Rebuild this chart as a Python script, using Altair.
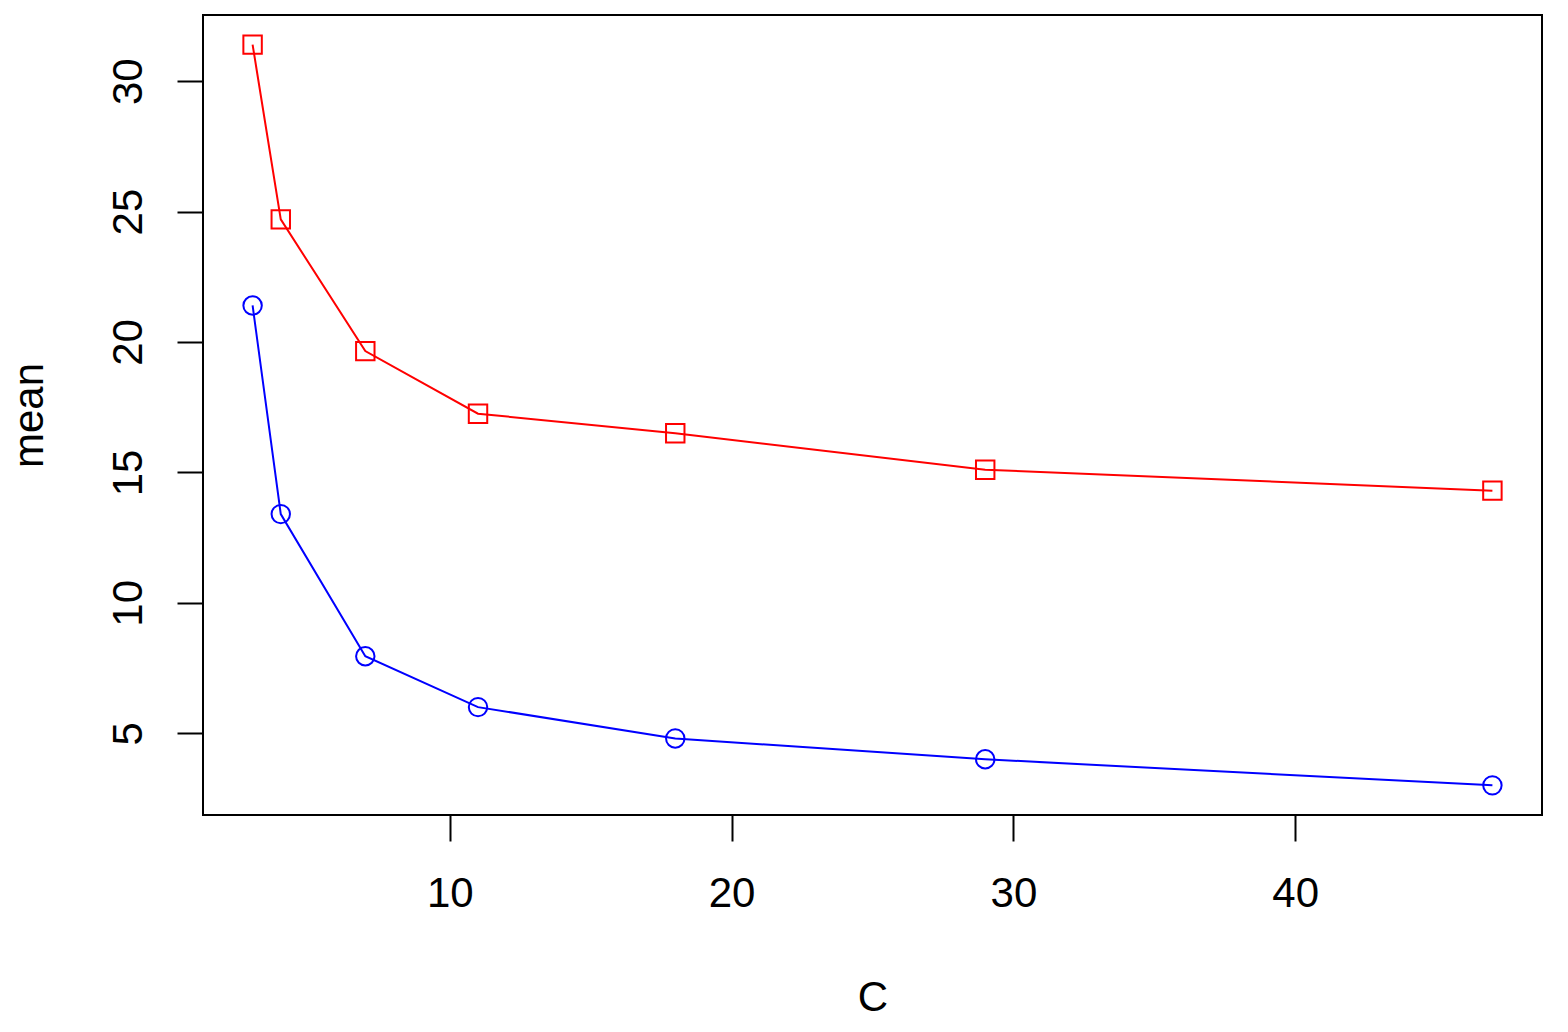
import altair as alt
import pandas as pd

C = [3, 4, 7, 11, 18, 29, 47]
mean_red = [31.4, 24.7, 19.65, 17.25, 16.5, 15.1, 14.3]
mean_blue = [21.4, 13.4, 7.95, 6.0, 4.8, 4.0, 3.0]
series_names = ["red", "blue"]
series_colors = ["#FF0000", "#0000FF"]
series_shapes = ["square", "circle"]
x_ticks = [10, 20, 30, 40]
y_ticks = [5, 10, 15, 20, 25, 30]

rows = []
for c, v in zip(C, mean_red):
    rows.append({"C": c, "mean": v, "series": "red"})
for c, v in zip(C, mean_blue):
    rows.append({"C": c, "mean": v, "series": "blue"})
df = pd.DataFrame(rows)

xmin, xmax = min(C), max(C)
allv = mean_red + mean_blue
ymin, ymax = min(allv), max(allv)
xr = (xmax - xmin) * 0.04
yr = (ymax - ymin) * 0.04

FONT = "Liberation Sans"
W, H = 1339, 800

x_enc = alt.X(
    "C:Q",
    scale=alt.Scale(domain=[xmin - xr, xmax + xr], nice=False, zero=False),
    axis=alt.Axis(
        values=x_ticks, grid=False, domain=False, tickSize=26, tickWidth=2,
        tickColor="black", labelFont=FONT, labelFontSize=42, labelColor="black",
        labelBaseline="top", labelPadding=32, labelFlush=False,
        title="C", titleFont=FONT, titleFontSize=42, titleFontWeight="normal",
        titleColor="black", titleBaseline="alphabetic", titleY=195, titleX=W / 2,
        titleAlign="center",
    ),
)
y_enc = alt.Y(
    "mean:Q",
    scale=alt.Scale(domain=[ymin - yr, ymax + yr], nice=False, zero=False),
    axis=alt.Axis(
        values=y_ticks, grid=False, domain=False, tickSize=26, tickWidth=2,
        tickColor="black", labelFont=FONT, labelFontSize=42, labelColor="black",
        labelAngle=270, labelAlign="center", labelBaseline="alphabetic",
        labelPadding=36, labelFlush=False,
        title="mean", titleFont=FONT, titleFontSize=42, titleFontWeight="normal",
        titleColor="black", titleAngle=270, titleBaseline="alphabetic",
        titleAlign="center", titleX=-161, titleY=H / 2,
    ),
)
color_enc = alt.Color(
    "series:N",
    scale=alt.Scale(domain=series_names, range=series_colors),
    legend=None,
)
shape_enc = alt.Shape(
    "series:N",
    scale=alt.Scale(domain=series_names, range=series_shapes),
    legend=None,
)

base = alt.Chart(df)
lines = base.mark_line(strokeWidth=2).encode(
    x=x_enc, y=y_enc, color=color_enc, detail="series:N"
)
pts = base.mark_point(filled=False, strokeWidth=2, size=340, opacity=1).encode(
    x=x_enc, y=y_enc, color=color_enc, shape=shape_enc
)

chart = (
    alt.layer(lines, pts)
    .properties(
        width=W,
        height=H,
        autosize=alt.AutoSizeParams(type="none"),
        padding={"left": 203, "top": 15, "right": 26, "bottom": 217},
        background="white",
    )
    .configure_view(stroke="black", strokeWidth=2)
)

chart.save("out.html", embed_options={"renderer": "svg", "actions": False})
